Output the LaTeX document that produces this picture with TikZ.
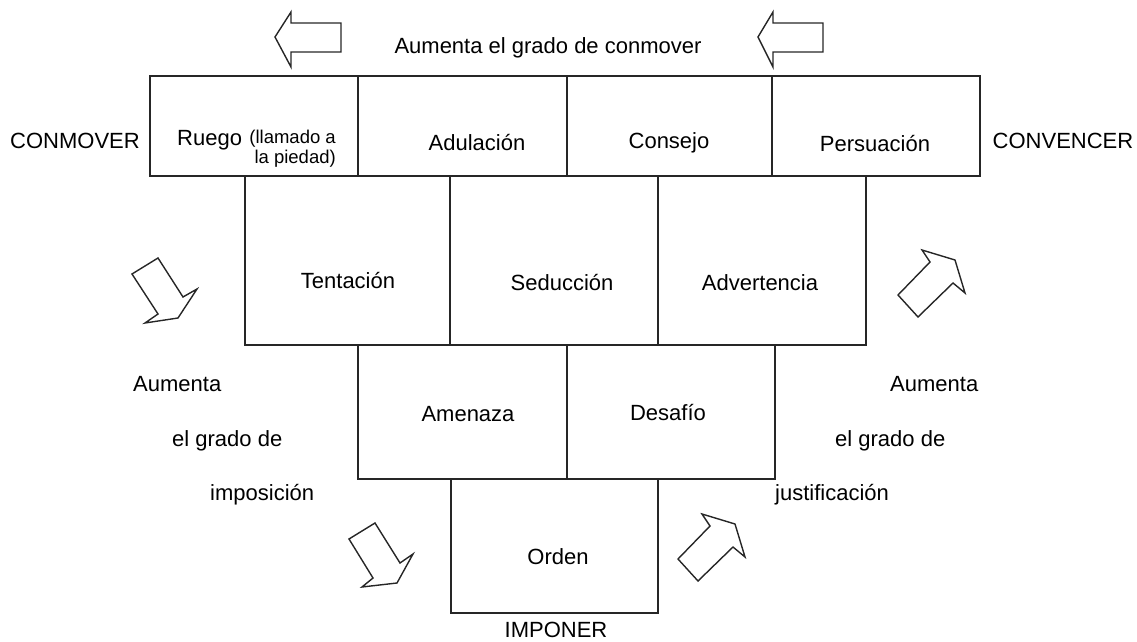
\documentclass[tikz,border=0pt]{standalone}
\usepackage{fontspec}
\setmainfont{Liberation Sans}
\usetikzlibrary{positioning}

\begin{document}
\begin{tikzpicture}[x=1pt,y=-1pt,
        every node/.style={font=\fontsize{22}{26}\selectfont,inner sep=0pt},
        caja/.style={draw=black!85,line width=1.4pt},
        flecha/.style={draw=black!85,line width=1.4pt,line join=miter}]
        \useasboundingbox (0,0) rectangle (1137,642);
        % fila superior
        \node[caja,minimum width=208pt,minimum height=100pt] (ruego) at (254,126) {};
        \node[caja,minimum width=209pt,minimum height=100pt] (adulacion) at (462.5,126) {};
        \node[caja,minimum width=205pt,minimum height=100pt] (consejo) at (669.5,126) {};
        \node[caja,minimum width=208pt,minimum height=100pt] (persuacion) at (876,126) {};
        % segunda fila
        \node[caja,minimum width=205pt,minimum height=169pt] (tentacion) at (347.5,260.5) {};
        \node[caja,minimum width=208pt,minimum height=169pt] (seduccion) at (554,260.5) {};
        \node[caja,minimum width=208pt,minimum height=169pt] (advertencia) at (762,260.5) {};
        % tercera fila
        \node[caja,minimum width=209pt,minimum height=134pt] (amenaza) at (462.5,412) {};
        \node[caja,minimum width=208pt,minimum height=134pt] (desafio) at (671,412) {};
        % orden
        \node[caja,minimum width=207pt,minimum height=134pt] (orden) at (554.5,546) {};

        % textos de las cajas
        \node[anchor=base west] (tRuego) at (177,145) {Ruego};
        \node[anchor=base east,align=right,font=\fontsize{18.5}{20}\selectfont] (tLlamado) at (336,163) {(llamado a\\la piedad)};
        \node[anchor=base] (tAdulacion) at (477,150) {Adulación};
        \node[anchor=base] (tConsejo) at (669,148) {Consejo};
        \node[anchor=base] (tPersuacion) at (875,151) {Persuación};
        \node[anchor=base] (tTentacion) at (348,288) {Tentación};
        \node[anchor=base] (tSeduccion) at (562,290) {Seducción};
        \node[anchor=base] (tAdvertencia) at (760,290) {Advertencia};
        \node[anchor=base] (tAmenaza) at (468,421) {Amenaza};
        \node[anchor=base] (tDesafio) at (668,420) {Desafío};
        \node[anchor=base] (tOrden) at (558,564) {Orden};

        % extremos
        \node[anchor=base] (arriba) at (548,53) {Aumenta el grado de conmover};
        \node[anchor=base] (conmover) at (75,148) {CONMOVER};
        \node[anchor=base] (convencer) at (1063,148) {CONVENCER};
        \node[anchor=base] (imponer) at (556,637) {IMPONER};

        % lados
        \node[anchor=base west] (izq1) at (133,391) {Aumenta};
        \node[anchor=base west] (izq2) at (172,446) {el grado de};
        \node[anchor=base west] (izq3) at (210,500) {imposición};
        \node[anchor=base west] (der1) at (890,391) {Aumenta};
        \node[anchor=base west] (der2) at (835,446) {el grado de};
        \node[anchor=base west] (der3) at (775,500) {justificación};

        % flechas huecas
        \draw[flecha] (275,37) -- (291,12) -- (291,23) -- (341,23) -- (341,52) -- (291,52) -- (291,67) -- cycle;
        \draw[flecha] (758,37) -- (773,12) -- (773,23) -- (823,23) -- (823,52) -- (773,52) -- (773,67) -- cycle;
        \draw[flecha] (132,274) -- (158,258) -- (183,297) -- (197,289) -- (178,318) -- (145,323) -- (158,314) -- cycle;
        \draw[flecha] (349,539) -- (375,523) -- (400,563) -- (413,554) -- (397,583) -- (362,587) -- (373,578) -- cycle;
        \draw[flecha] (898,295) -- (930,262) -- (922,250) -- (955,260) -- (965,293) -- (953,283) -- (918,317) -- cycle;
        \draw[flecha] (678,559) -- (710,526) -- (702,514) -- (735,524) -- (745,557) -- (733,547) -- (698,581) -- cycle;
\end{tikzpicture}
\end{document}
